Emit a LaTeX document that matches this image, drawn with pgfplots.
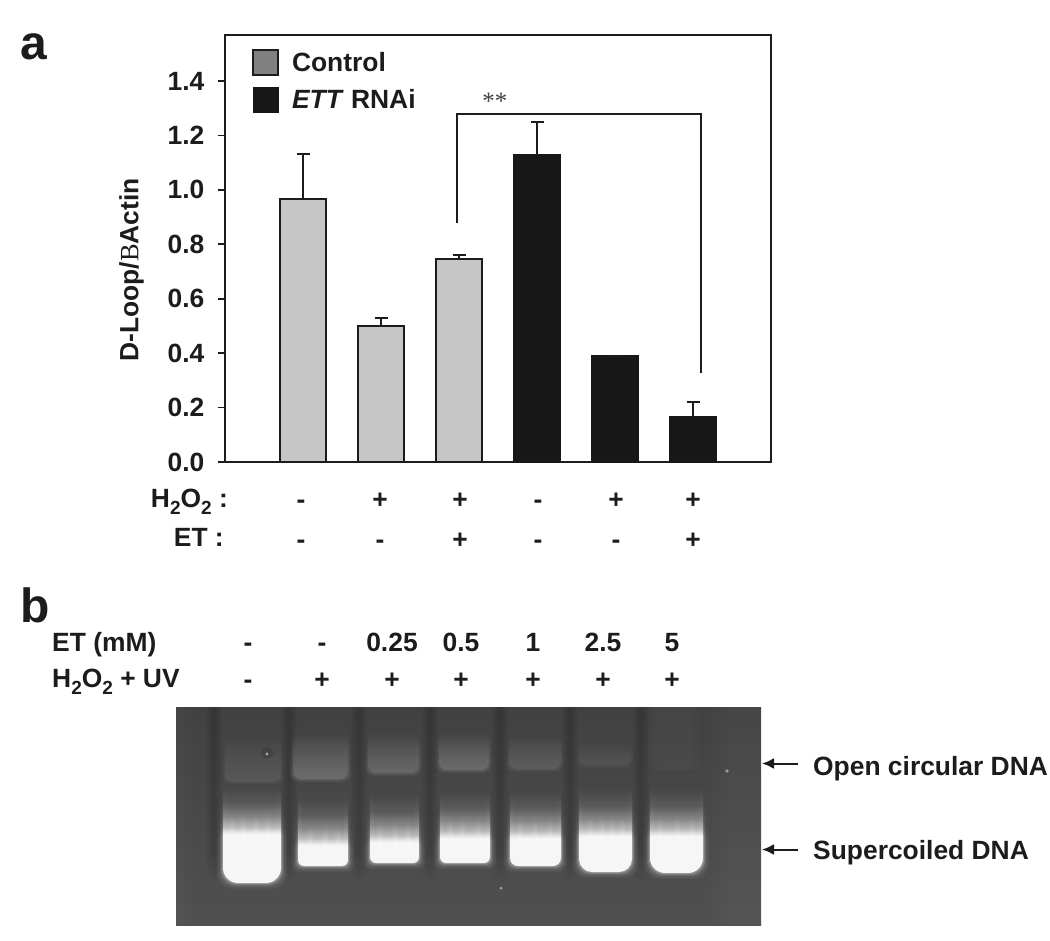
\documentclass[border=0pt]{standalone}
\usepackage{fontspec}
\setmainfont{Liberation Sans}
\newfontfamily\seriffam{Liberation Serif}
\usepackage{pgfplots}
\pgfplotsset{compat=1.18}
\usepackage{pgfplotstable}
\usetikzlibrary{fadings,arrows.meta}
\definecolor{ink}{HTML}{1C1C1C}
\definecolor{ctrl}{HTML}{C6C6C6}
\definecolor{ctrlkey}{HTML}{808080}
\definecolor{ettblk}{HTML}{171717}
\definecolor{gtop}{HTML}{414141}
\definecolor{gbot}{HTML}{505050}
\definecolor{fa}{gray}{.55}
\definecolor{fb}{gray}{.28}
\definecolor{fc}{gray}{.09}
\newcommand\lab{\fontsize{26.4bp}{28bp}\selectfont\bfseries}
\newcommand\sub[1]{\raisebox{-0.28em}{\fontsize{19bp}{20bp}\selectfont #1}}
\pgfplotstableread{
x y e
0 0.967 0.165
1 0.500 0.030
2 0.746 0.015
}\controltable
\pgfplotstableread{
x y e
3 1.128 0.122
4 0.390 0.001
5 0.165 0.055
}\etttable
% vertical fadings of the lanes: name, height of the white part
% the path's box takes the stops from 25bp to 75bp of the fading
\newcommand\mkfade[2]{%
  \pgfmathsetmacro\sa{25+50*(#2)/115}%
  \pgfmathsetmacro\sb{25+50*(#2+7)/115}%
  \pgfmathsetmacro\sc{25+50*(#2+17)/115}%
  \pgfmathsetmacro\sd{25+50*(#2+30)/115}%
  \pgfmathsetmacro\se{25+50*(#2+48)/115}%
  \edef\tmpdecl{\noexpand\pgfdeclareverticalshading{#1s}{100bp}{color(0bp)=(white);color(\sa bp)=(white);color(\sb bp)=(fa);color(\sc bp)=(fb);color(\sd bp)=(fc);color(\se bp)=(black);color(100bp)=(black)}}%
  \tmpdecl
  \pgfdeclarefading{#1}{\pgfuseshading{#1s}}%
}
\mkfade{laneA}{49}
\mkfade{laneB}{21}
\mkfade{laneC}{21}
\mkfade{laneD}{25}
\mkfade{laneE}{28}
\mkfade{laneF}{36}
\mkfade{laneG}{37}
% lane: name, x0, x1, top of side glow, bottom, radius
\newcommand\lane[6]{%
  \foreach \g/\o in {6/.04,4.5/.05,3/.08,2/.12,1/.2}{%
    \fill[white,opacity=\o,path fading=#1,rounded corners=#6bp] (#2-\g,#5-115) rectangle (#3+\g,#5+\g);
  }%
  \fill[white,opacity=.92,path fading=#1,rounded corners=#6bp] (#2,#5-115) rectangle (#3,#5);
  \fill[white,opacity=.07,path fading=north] (#2,#4) rectangle (#2+4,#5-10);
  \fill[white,opacity=.07,path fading=north] (#3-4,#4) rectangle (#3,#5-10);
}
% streak: x, white top
\newcommand\streak[2]{%
  \fill[white,opacity=.12,path fading=north] (#1-3,#2-24) rectangle (#1+3,#2+4);
  \fill[white,opacity=.14,path fading=north] (#1-1.5,#2-20) rectangle (#1+1.5,#2+4);
}
% band: x0, x1, top, bottom, colour
\newcommand\band[5]{%
  \fill[#5,opacity=.15,path fading=north,rounded corners=8bp] (#1-4,#3-6) rectangle (#2+4,#4+4);
  \fill[#5,opacity=.25,path fading=north,rounded corners=8bp] (#1-2.5,#3-6) rectangle (#2+2.5,#4+2.5);
  \fill[#5,opacity=.5,path fading=north,rounded corners=8bp] (#1-1,#3-6) rectangle (#2+1,#4+1);
}
\newcommand\gap[1]{%
  \foreach \w in {8,6,4,2}{%
    \fill[black,opacity=.035] (#1-\w,707) rectangle (#1+\w,850);
    \fill[black,opacity=.035,path fading=south] (#1-\w,850) rectangle (#1+\w,880);
  }%
}
\begin{document}
\begin{tikzpicture}
\begin{scope}[x=1bp,y=-1bp]
\path (0,0) rectangle (1050,941);
% gel
\begin{scope}
\clip (176,707) rectangle (761,925);
\shade[top color=gtop,bottom color=gbot] (176,707) rectangle (761,925);
\foreach \x in {708,713,718,723,728}{\fill[white,opacity=.008] (\x,707) rectangle (761,925);}
\foreach \x in {176,180,184,188,192}{\fill[white,opacity=.008] (176,707) rectangle (\x,925);}
\foreach \w in {0,3,6,9}{\fill[white,opacity=.006] (648+\w,707) rectangle (700-\w,770);}
\gap{289}\gap{359}\gap{430}\gap{500}\gap{570}\gap{641}\gap{214}
\band{226}{280}{738}{781}{black!62}
\band{294}{347}{738}{778}{black!50}
\band{369}{418}{738}{772}{black!52}
\band{440}{488}{738}{769}{black!50}
\band{510}{560}{740}{768}{black!58}
\band{580}{630}{748}{764}{black!64}
\lane{laneA}{223}{281}{781}{883}{15}
\lane{laneB}{298}{348}{788}{866}{6}
\lane{laneC}{370}{419}{788}{863}{6}
\lane{laneD}{440}{490}{788}{863}{6}
\lane{laneE}{510}{561}{788}{866}{8}
\lane{laneF}{579}{632}{785}{872}{13}
\lane{laneG}{650}{703}{785}{873}{15}
\foreach \x in {232,243,256,268}{\streak{\x}{836}}
\foreach \x in {310,325,338}{\streak{\x}{847}}
\foreach \x in {380,395,408}{\streak{\x}{844}}
\foreach \x in {450,462,478}{\streak{\x}{840}}
\foreach \x in {520,535,550}{\streak{\x}{840}}
\foreach \x in {590,602,612,622}{\streak{\x}{838}}
\foreach \x in {660,677,692}{\streak{\x}{838}}
\fill[black,opacity=.12] (267,753) circle (6);
\fill[gray!70] (267,754) circle (1.6);
\fill[gray!80] (727,771) circle (1.8);
\fill[gray!70] (501,888) circle (1.5);
\end{scope}
% panel letters
\node[ink,font=\fontsize{48bp}{48bp}\selectfont\bfseries,anchor=base west,inner sep=0] at (20,59) {a};
\node[ink,font=\fontsize{48bp}{48bp}\selectfont\bfseries,anchor=base west,inner sep=0] at (20,622) {b};
% row labels, panel a
\node[ink,font=\lab,anchor=base east,inner sep=0] at (228,507) {H\sub{2}O\sub{2} :};
\node[ink,font=\lab,anchor=base east,inner sep=0] at (224,546) {ET :};
\foreach \x/\a/\b in {301/-/-,380/+/-,460/+/+,538/-/-,616/+/-,693/+/+}{
  \node[ink,font=\lab,inner sep=0,anchor=base] at (\x,508) {\a};
  \node[ink,font=\lab,inner sep=0,anchor=base] at (\x,548) {\b};
}
% row labels, panel b
\node[ink,font=\lab,anchor=base west,inner sep=0] at (52,651) {ET (mM)};
\node[ink,font=\lab,anchor=base west,inner sep=0] at (52,687) {H\sub{2}O\sub{2} + UV};
\foreach \x/\a/\b in {248/-/-,322/-/+,392/0.25/+,461/0.5/+,533/1/+,603/2.5/+,672/5/+}{
  \node[ink,font=\lab,inner sep=0,anchor=base] at (\x,651) {\a};
  \node[ink,font=\lab,inner sep=0,anchor=base] at (\x,688.5) {\b};
}
% arrows and band names
\draw[ink,line width=2bp,-{Latex[length=12bp,width=11bp]}] (798,763.5) -- (762,763.5);
\draw[ink,line width=2bp,-{Latex[length=12bp,width=11bp]}] (798,849.5) -- (762,849.5);
\node[ink,font=\lab,anchor=base west,inner sep=0] at (813,775) {Open circular DNA};
\node[ink,font=\lab,anchor=base west,inner sep=0] at (813,859) {Supercoiled DNA};
\end{scope}
\begin{axis}[
  at={(225bp,-462bp)},anchor=south west,
  scale only axis,width=546bp,height=427bp,
  xmin=-1,xmax=6,ymin=0,ymax=1.569,
  xtick=\empty,
  ytick={0,0.2,0.4,0.6,0.8,1.0,1.2,1.4},
  ytick pos=left,tick align=outside,major tick length=7.5bp,
  axis line style={ink,line width=1.8bp},
  tick style={ink,line width=1.8bp},
  /pgf/number format/assume math mode=true,
  /pgf/number format/fixed,/pgf/number format/fixed zerofill,/pgf/number format/precision=1,
  yticklabel style={font=\lab,text=ink,inner sep=0,xshift=-13bp},
  ylabel={\lab D-Loop/{\seriffam\mdseries B}Actin},
  ylabel style={at={(axis description cs:-0.171,0.45)},anchor=center,text=ink},
  clip=false,
  ybar,bar width=46bp,
  legend cell align=left,
  legend style={at={(axis description cs:0.0495,0.967)},anchor=north west,draw=none,fill=none,inner sep=0pt,
    font=\lab,text=ink,row sep=11bp,
    /tikz/every odd column/.append style={column sep=11bp}},
  legend image code/.code={\draw[#1] (0bp,-12.5bp) rectangle (25bp,12.5bp);},
]
\addlegendimage{draw=ink,line width=1.8bp,fill=ctrlkey}
\addlegendentry{Control}
\addlegendimage{draw=ettblk,line width=0.5bp,fill=ettblk}
\addlegendentry{\textit{ETT} RNAi}
\addplot[forget plot,bar shift=0pt,draw=ink,line width=1.8bp,fill=ctrl,
  error bars/.cd,y dir=plus,y explicit,error bar style={ink,line width=1.8bp},
  error mark options={ink,rotate=90,mark size=6.5bp,line width=1.8bp}]
  table[x=x,y=y,y error=e]{\controltable};
\addplot[forget plot,bar shift=0pt,draw=ettblk,line width=1.8bp,fill=ettblk,
  error bars/.cd,y dir=plus,y explicit,error bar style={ink,line width=1.8bp},
  error mark options={ink,rotate=90,mark size=6.5bp,line width=1.8bp}]
  table[x=x,y=y,y error=e]{\etttable};
\addplot[sharp plot,forget plot,no marks,draw=ink,line width=1.8bp] coordinates {(1.974,0.878) (1.974,1.279) (5.103,1.279) (5.103,0.327)};
\node[text=black!75,font=\seriffam\fontsize{25bp}{25bp}\selectfont,inner sep=0] at (axis cs:2.46,1.325) {**};
\end{axis}
\end{tikzpicture}
\end{document}
